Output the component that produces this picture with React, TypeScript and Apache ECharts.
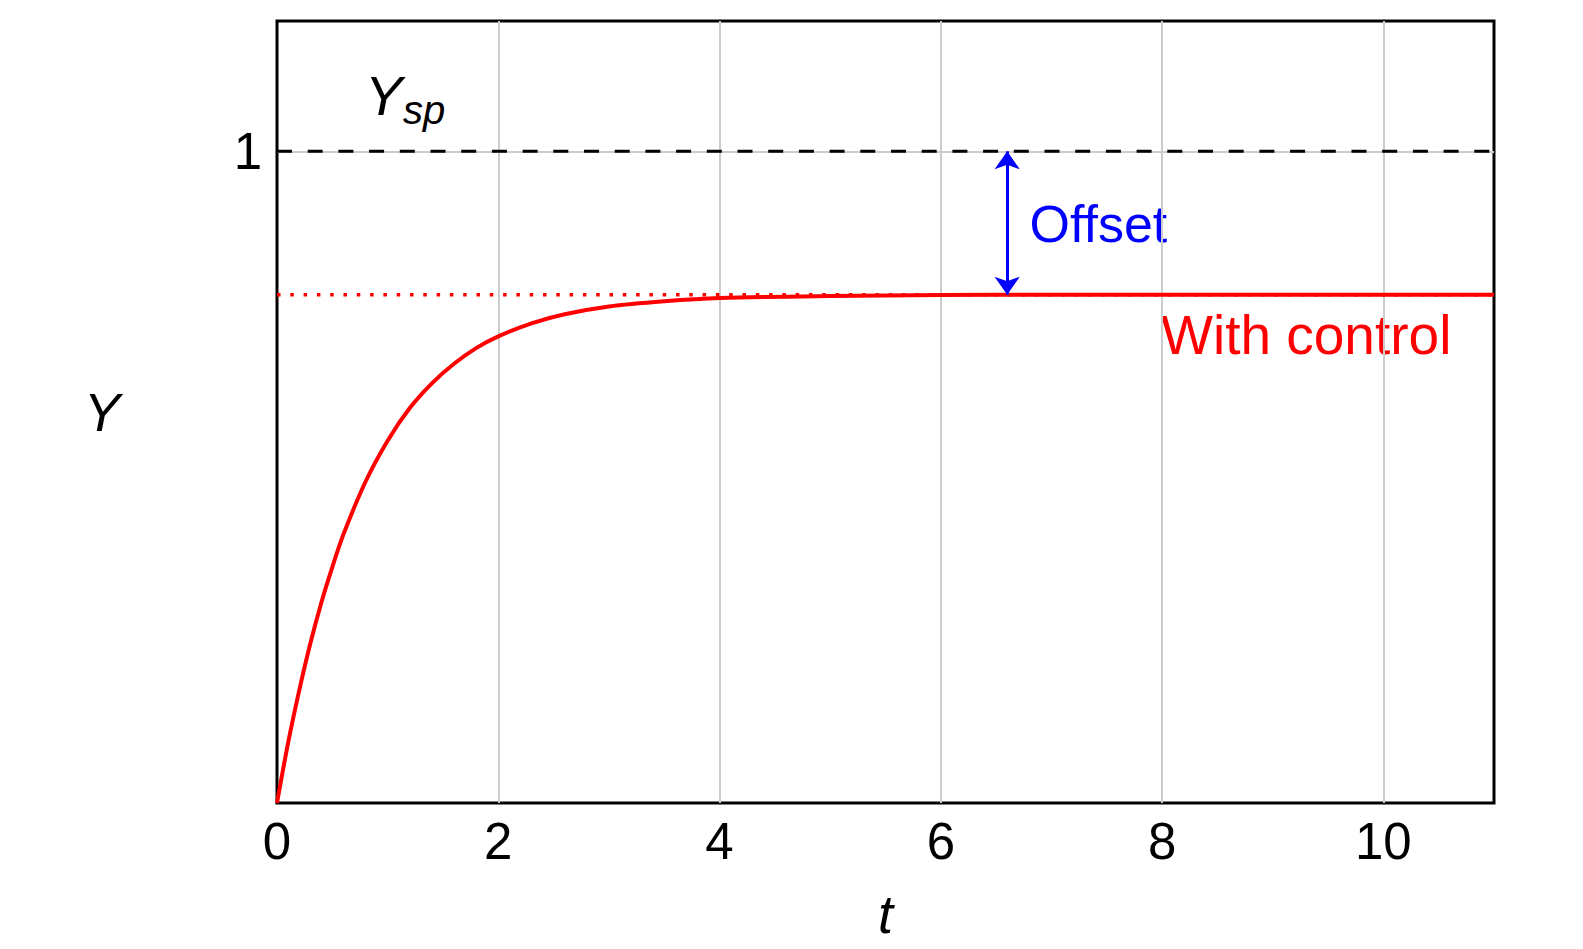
import React, { useEffect, useRef } from "react";
import * as echarts from "echarts";

// ---- data ----
const timeValues = [0, 0.1, 0.2, 0.3, 0.4, 0.5, 0.6, 0.8, 1.0, 1.2, 1.4, 1.6, 1.8, 2.0, 2.3, 2.6, 3.0, 3.5, 4.0, 5.0, 6.0, 7.0, 8.0, 9.0, 10.0, 11.0];
const responseValues = [0, 0.092, 0.172, 0.244, 0.307, 0.362, 0.412, 0.493, 0.556, 0.606, 0.644, 0.674, 0.698, 0.716, 0.736, 0.75, 0.762, 0.77, 0.775, 0.778, 0.7795, 0.78, 0.78, 0.78, 0.78, 0.78];
const setpointValue = 1;
const finalValue = 0.78;
const offsetAt = 6.6;
const xTickLabels = ["0", "2", "4", "6", "8", "10"];
const yTickLabels = ["1"];
const xRange = [0, 11];
const yRange = [0, 1.2];

const FONT = "'Liberation Sans', Arial, sans-serif";

export default function App() {
  const ref = useRef<HTMLDivElement>(null);

  useEffect(() => {
    if (!ref.current) return;
    const chart = echarts.init(ref.current, undefined, { renderer: "svg" });

    const curve = timeValues.map((t, i) => [t, responseValues[i]]);
    const setpointLine = [
      [xRange[0], setpointValue],
      [xRange[1], setpointValue],
    ];
    const finalLine = [
      [xRange[0], finalValue],
      [xRange[1], finalValue],
    ];

    chart.setOption({
      animation: false,
      backgroundColor: "#ffffff",
      grid: {
        left: 277,
        top: 21,
        right: 89,
        bottom: 146,
        show: true,
        borderColor: "#000000",
        borderWidth: 3,
        backgroundColor: "transparent",
      },
      xAxis: {
        type: "value",
        min: xRange[0],
        max: xRange[1],
        interval: 2,
        name: "t",
        nameLocation: "middle",
        nameGap: 84,
        nameTextStyle: { fontFamily: FONT, fontSize: 54, fontStyle: "italic", color: "#000" },
        axisLine: { show: false },
        axisTick: { show: false },
        splitLine: { show: true, showMinLine: false, showMaxLine: false, lineStyle: { color: "#cccccc", width: 2 } },
        axisLabel: {
          showMaxLabel: false,
          margin: 13,
          fontFamily: FONT,
          fontSize: 51,
          color: "#000",
          formatter: (v: number) => (xTickLabels.includes(String(v)) ? String(v) : ""),
        },
      },
      yAxis: {
        type: "value",
        min: yRange[0],
        max: yRange[1],
        interval: 1,
        name: "Y",
        nameLocation: "middle",
        nameRotate: 0,
        nameGap: 157,
        nameTextStyle: { fontFamily: FONT, fontSize: 54, fontStyle: "italic", color: "#000" },
        axisLine: { show: false },
        axisTick: { show: false },
        splitLine: { show: true, showMinLine: false, showMaxLine: false, lineStyle: { color: "#cccccc", width: 2 } },
        axisLabel: {
          margin: 15,
          fontFamily: FONT,
          fontSize: 51,
          color: "#000",
          formatter: (v: number) => (yTickLabels.includes(String(v)) ? String(v) : ""),
        },
      },
      series: [
        {
          type: "line",
          name: "final",
          data: finalLine,
          showSymbol: false,
          symbol: "none",
          z: 2,
          lineStyle: { color: "#ff0000", width: 3.5, type: [3.5, 9.8], cap: "butt" },
        },
        {
          type: "line",
          name: "setpoint",
          data: setpointLine,
          showSymbol: false,
          symbol: "none",
          z: 3,
          lineStyle: { color: "#000000", width: 3, type: [15, 15.7], cap: "butt" },
        },
        {
          type: "line",
          name: "With control",
          data: curve,
          showSymbol: false,
          symbol: "none",
          smooth: 0.3,
          z: 4,
          lineStyle: { color: "#ff0000", width: 4 },
          markLine: {
            silent: true,
            symbol: ["arrow", "arrow"],
            symbolSize: [19, 18],
            label: { show: false },
            lineStyle: { color: "#0000ff", width: 3, type: "solid" },
            data: [
              [
                { coord: [offsetAt, setpointValue] },
                { coord: [offsetAt, finalValue] },
              ],
            ],
          },
        },
      ],
      graphic: [
        {
          type: "text",
          x: 365,
          y: 95.6,
          style: { text: "Y", fontFamily: FONT, fontSize: 56, fontStyle: "italic", fill: "#000", align: "left", verticalAlign: "middle" },
        },
        {
          type: "text",
          x: 403,
          y: 110,
          style: { text: "sp", fontFamily: FONT, fontSize: 40, fontStyle: "italic", fill: "#000", align: "left", verticalAlign: "middle" },
        },
        {
          type: "text",
          x: 1029.5,
          y: 223.7,
          style: { text: "Offset", fontFamily: FONT, fontSize: 52, fill: "#0000ff", align: "left", verticalAlign: "middle" },
        },
        {
          type: "text",
          x: 1161,
          y: 335.3,
          style: { text: "With control", fontFamily: FONT, fontSize: 55, fill: "#ff0000", align: "left", verticalAlign: "middle" },
        },
      ],
    });

    return () => chart.dispose();
  }, []);

  return (
    <div
      ref={ref}
      style={{ position: "fixed", left: 0, top: 0, width: 1583, height: 949, background: "#fff" }}
    />
  );
}
